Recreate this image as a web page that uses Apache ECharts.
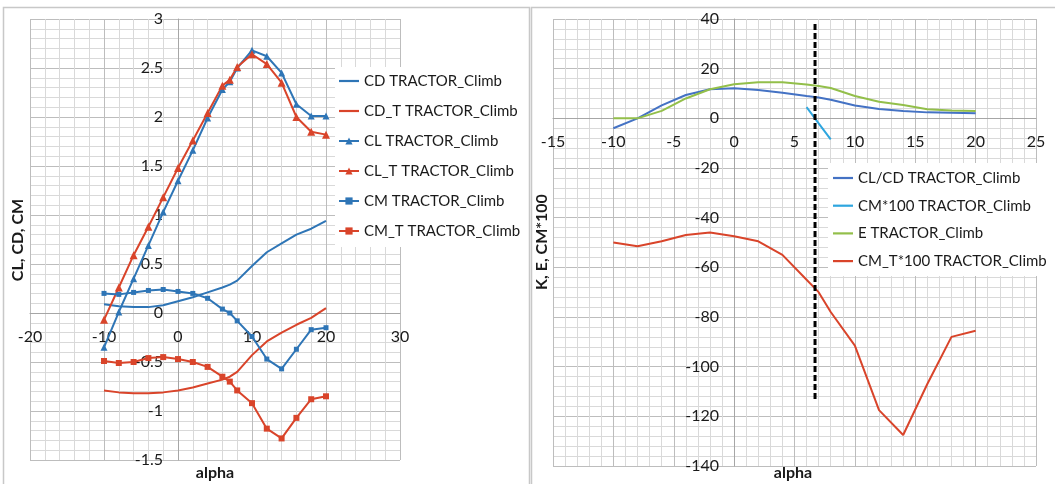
<!DOCTYPE html>
<html><head><meta charset="utf-8">
<script src="https://cdn.jsdelivr.net/npm/echarts@6/dist/echarts.min.js"></script>
<style>html,body{margin:0;padding:0;background:#fff}#c{width:1055px;height:484px}</style>
</head><body><div id="c"></div><script>
// ---- data ----
const alpha = [-10,-8,-6,-4,-2,0,2,4,6,7,8,10,12,14,16,18,20];
// left panel
const CD   = [0.09,0.07,0.06,0.06,0.08,0.12,0.16,0.21,0.26,0.29,0.33,0.48,0.62,0.71,0.80,0.86,0.94];
const CD_T = [-0.79,-0.81,-0.82,-0.82,-0.81,-0.79,-0.76,-0.72,-0.68,-0.65,-0.60,-0.43,-0.29,-0.20,-0.12,-0.05,0.05];
const CL   = [-0.35,0.01,0.35,0.69,1.03,1.35,1.66,1.99,2.28,2.36,2.50,2.68,2.62,2.45,2.13,2.01,2.01];
const CL_T = [-0.07,0.26,0.59,0.88,1.18,1.48,1.76,2.04,2.32,2.38,2.51,2.64,2.54,2.35,2.00,1.85,1.82];
const CM   = [0.20,0.19,0.21,0.23,0.24,0.22,0.20,0.15,0.04,0.00,-0.08,-0.24,-0.47,-0.57,-0.37,-0.17,-0.15];
const CM_T = [-0.49,-0.51,-0.50,-0.46,-0.45,-0.47,-0.50,-0.55,-0.65,-0.70,-0.79,-0.92,-1.18,-1.28,-1.07,-0.88,-0.85];
// right panel
const K      = [-4,0,5.2,9.4,11.7,12.1,11.4,10.3,9.0,8.4,7.5,5.2,3.8,3.0,2.4,2.2,2.0];
const CM100  = [null,null,null,null,null,null,null,null,4.5,-2,-8.5,null,null,null,null,null,null];
const E      = [0,0,3,8,11.7,13.7,14.5,14.5,13.6,13,12.2,9,6.7,5.4,3.7,3.2,3.0];
const CMT100 = [-50,-51.5,-49.5,-47,-46,-47.5,-49.5,-55,-65,-70,-78,-91.5,-117.5,-127.5,-107,-88,-85.5];
const dashX = [6.7,6.7];
const dashY = [38,-113];
const leftNames  = ['CD TRACTOR_Climb','CD_T TRACTOR_Climb','CL TRACTOR_Climb','CL_T TRACTOR_Climb','CM TRACTOR_Climb','CM_T TRACTOR_Climb'];
const rightNames = ['CL/CD TRACTOR_Climb','CM*100 TRACTOR_Climb','E TRACTOR_Climb','CM_T*100 TRACTOR_Climb'];
// axis ranges
const L = {xmin:-20, xmax:30, xint:10, ymin:-1.5, ymax:3, yint:0.5};
const R = {xmin:-15, xmax:25, xint:5, ymin:-140, ymax:40, yint:20};

// ---- styling / layout ----
const FONT = 'Lato, "Liberation Sans", sans-serif';
const BLUE = '#2E75B6', RED = '#D9442A';
const BLUE2 = '#4472C4', CYAN = '#2EA6DF', GREEN = '#93BF4A';
const GL = {left:30, top:19, width:370, height:441};
const GR = {left:553, top:19, width:483, height:447};
const pairs = arr => alpha.map((a,i)=>[a, arr[i]]);
const LINE_ICON = 'path://M0,0 L20,0 L20,2.2 L0,2.2 Z';

// axis lines cross at zero: offsets derived from axis ranges
function xAx(grid, r, g){
  const off = -g.height * (0 - r.ymin) / (r.ymax - r.ymin);
  return {type:'value', gridIndex:grid, min:r.xmin, max:r.xmax, interval:r.xint, position:'bottom', offset:off,
    axisLine:{show:true, onZero:false, lineStyle:{color:'#A6A6A6', width:1}},
    axisTick:{show:false},
    axisLabel:{margin:16, fontSize:16, color:'#1a1a1a', fontFamily:FONT},
    splitLine:{show:true, lineStyle:{color:'#BDBDBD', width:1}},
    minorTick:{show:false, splitNumber:5},
    minorSplitLine:{show:true, lineStyle:{color:'#D9D9D9', width:1}}};
}
function yAx(grid, r, g){
  const off = -g.width * (0 - r.xmin) / (r.xmax - r.xmin);
  return {type:'value', gridIndex:grid, min:r.ymin, max:r.ymax, interval:r.yint, position:'left', offset:off,
    axisLine:{show:true, onZero:false, lineStyle:{color:'#A6A6A6', width:1}},
    axisTick:{show:false},
    axisLabel:{margin:15, fontSize:16, color:'#1a1a1a', fontFamily:FONT},
    splitLine:{show:true, lineStyle:{color:'#BDBDBD', width:1}},
    minorTick:{show:false, splitNumber:5},
    minorSplitLine:{show:true, lineStyle:{color:'#D9D9D9', width:1}}};
}
function ln(name, data, color, symbol, size, xi){
  return {name, type:'line', data, xAxisIndex:xi, yAxisIndex:xi,
    symbol: symbol || 'none', symbolSize: size || 0, showSymbol: !!symbol,
    connectNulls:false, animation:false,
    lineStyle:{color, width:2}, itemStyle:{color}};
}
function legItem(name, marker){ return marker ? {name} : {name, icon:LINE_ICON}; }

const chart = echarts.init(document.getElementById('c'), null, {renderer:'canvas'});
chart.setOption({
  animation:false,
  backgroundColor:'#fff',
  grid:[GL, GR],
  xAxis:[xAx(0,L,GL), xAx(1,R,GR)],
  yAxis:[yAx(0,L,GL), yAx(1,R,GR)],
  legend:[
    {data:[legItem(leftNames[0]),legItem(leftNames[1]),legItem(leftNames[2],1),legItem(leftNames[3],1),legItem(leftNames[4],1),legItem(leftNames[5],1)],
     orient:'vertical', left:335, top:67, backgroundColor:'#fff',
     padding:[6,0,8,3], itemWidth:20, itemHeight:9, itemGap:14,
     textStyle:{fontSize:15, fontFamily:FONT, color:'#1a1a1a', lineHeight:16}},
    {data:rightNames.map(n=>legItem(n)), orient:'vertical', left:828, top:163, backgroundColor:'#fff',
     padding:[7,30,7,5], itemWidth:20, itemHeight:9, itemGap:11.7,
     textStyle:{fontSize:15, fontFamily:FONT, color:'#1a1a1a', lineHeight:16}}
  ],
  series:[
    ln(leftNames[0], pairs(CD), BLUE, null, 0, 0),
    ln(leftNames[1], pairs(CD_T), RED, null, 0, 0),
    ln(leftNames[2], pairs(CL), BLUE, 'triangle', 7, 0),
    ln(leftNames[3], pairs(CL_T), RED, 'triangle', 8, 0),
    ln(leftNames[4], pairs(CM), BLUE, 'rect', 5, 0),
    ln(leftNames[5], pairs(CM_T), RED, 'rect', 6, 0),
    ln(rightNames[0], pairs(K), BLUE2, null, 0, 1),
    ln(rightNames[1], pairs(CM100), CYAN, null, 0, 1),
    ln(rightNames[2], pairs(E), GREEN, null, 0, 1),
    ln(rightNames[3], pairs(CMT100), RED, null, 0, 1),
    {name:'ref', type:'line', xAxisIndex:1, yAxisIndex:1, symbol:'none',
     data: dashX.map((x,i)=>[x, dashY[i]]),
     lineStyle:{color:'#000', width:3, type:[6,3]}, animation:false}
  ],
  graphic:[
    {type:'rect', shape:{x:3.5, y:7.5, width:526, height:490}, style:{fill:'none', stroke:'#C8C8C8', lineWidth:1.5}, silent:true, z:100},
    {type:'rect', shape:{x:531.5, y:7.5, width:530, height:490}, style:{fill:'none', stroke:'#C8C8C8', lineWidth:1.5}, silent:true, z:100},
    {type:'text', x:18, y:240, rotation:Math.PI/2, style:{text:'CL, CD, CM', font:'bold 16px '+FONT, fill:'#1a1a1a', textAlign:'center', textVerticalAlign:'middle'}},
    {type:'text', x:215, y:473, style:{text:'alpha', font:'bold 16px '+FONT, fill:'#1a1a1a', textAlign:'center', textVerticalAlign:'middle'}},
    {type:'text', x:542, y:242, rotation:Math.PI/2, z:100, style:{text:'K, E, CM*100', font:'bold 16px '+FONT, fill:'#1a1a1a', textAlign:'center', textVerticalAlign:'middle'}},
    {type:'text', x:793, y:473, style:{text:'alpha', font:'bold 16px '+FONT, fill:'#1a1a1a', textAlign:'center', textVerticalAlign:'middle'}}
  ]
});
</script></body></html>
